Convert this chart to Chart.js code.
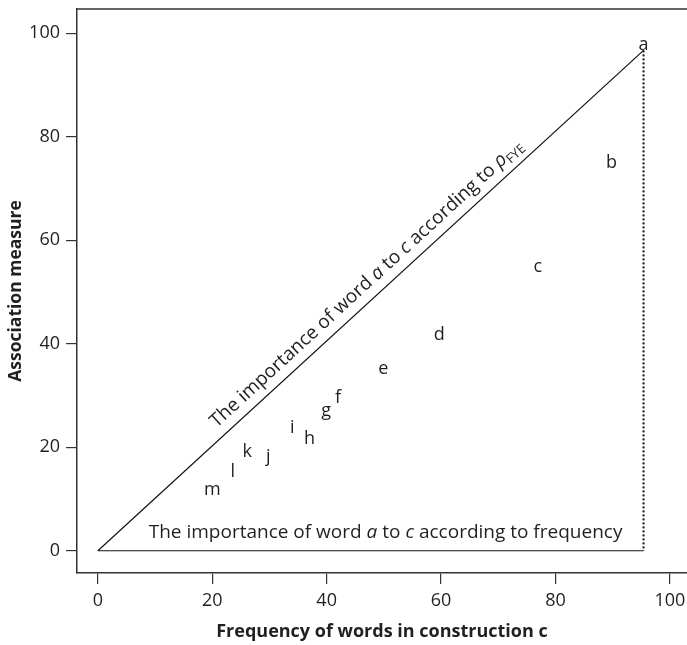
<!DOCTYPE html>
<html>
<head>
<meta charset="utf-8">
<script src="https://cdn.jsdelivr.net/npm/chart.js@4"></script>
<style>
  html, body { margin: 0; padding: 0; background: #fff; overflow: hidden; }
  #wrap { width: 687px; height: 645px; position: relative; }
</style>
</head>
<body>
<div id="wrap"><canvas id="chart"></canvas></div>
<script>
// Words and their position (frequency in construction, association measure)
const words = ['a', 'b', 'c', 'd', 'e', 'f', 'g', 'h', 'i', 'j', 'k', 'l', 'm'];
const wordFreq = [95.4, 89.8, 76.9, 59.7, 49.9, 42.0, 39.9, 37.0, 34.0, 29.8, 26.1, 23.6, 20.0];
const wordAssoc = [96.7, 73.9, 53.8, 40.8, 34.2, 28.6, 26.1, 20.7, 22.8, 17.2, 18.2, 14.3, 10.8];

// Triangle: diagonal (pFYE), baseline (frequency), dotted drop from word a
const diagX = [0, 95.4];
const diagY = [0, 96.7];
const baseX = [0, 95.4];
const baseY = [0, 0];
const dropX = [95.4, 95.4];
const dropY = [96.7, 0];

const xTicks = [0, 20, 40, 60, 80, 100];
const yTicks = [0, 20, 40, 60, 80, 100];

// Annotation texts (segment, style) and where their baseline centre sits
const diagText = [['The importance of word ', ''], ['a', 'i'], [' to ', ''], ['c', 'i'], [' according to ', ''], ['\u03C1', 'i'], ['FYE', 'sub']];
const diagAt = { x: 47.6, y: 50.9 };
const baseText = [['The importance of word ', ''], ['a', 'i'], [' to ', ''], ['c', 'i'], [' according to frequency', '']];
const baseAt = { x: 50.3, y: 2.5 };

const FONT = '"Open Sans"';
const INK = '#231f20';
const SIZE = 18;      // letters and tick labels
const NOTE = 19;      // annotation texts

function pts(xs, ys) {
  return xs.map((x, i) => ({ x: x, y: ys[i] }));
}

function richWidth(ctx, parts, size) {
  let w = 0;
  for (const [t, s] of parts) {
    const sz = s === 'sub' ? size * 0.68 : size;
    ctx.font = (s === 'i' ? 'italic ' : '') + sz + 'px ' + FONT;
    w += ctx.measureText(t).width;
  }
  return w;
}

function drawRich(ctx, parts, x, y, size) {
  let cx = x;
  for (const [t, s] of parts) {
    const sz = s === 'sub' ? size * 0.68 : size;
    ctx.font = (s === 'i' ? 'italic ' : '') + sz + 'px ' + FONT;
    ctx.fillText(t, cx, y + (s === 'sub' ? size * 0.22 : 0));
    cx += ctx.measureText(t).width;
  }
}

const labelPlugin = {
  id: 'labels',
  afterDatasetsDraw(chart) {
    const ctx = chart.ctx;
    const xs = chart.scales.x, ys = chart.scales.y;
    const area = chart.chartArea;
    ctx.save();
    // top border of the box
    ctx.strokeStyle = '#333';
    ctx.lineWidth = 1.5;
    ctx.beginPath();
    ctx.moveTo(area.left, area.top);
    ctx.lineTo(area.right, area.top);
    ctx.stroke();

    ctx.fillStyle = INK;
    ctx.textAlign = 'center';
    ctx.textBaseline = 'alphabetic';
    ctx.font = SIZE + 'px ' + FONT;
    const meta = chart.getDatasetMeta(0);
    meta.data.forEach((el, i) => {
      ctx.fillText(words[i], el.x, el.y);
    });

    ctx.textAlign = 'left';
    // horizontal annotation
    let w = richWidth(ctx, baseText, NOTE);
    drawRich(ctx, baseText, xs.getPixelForValue(baseAt.x) - w / 2, ys.getPixelForValue(baseAt.y), NOTE);

    // diagonal annotation, rotated to follow the line
    const ang = Math.atan2(ys.getPixelForValue(diagY[1]) - ys.getPixelForValue(diagY[0]),
                           xs.getPixelForValue(diagX[1]) - xs.getPixelForValue(diagX[0]));
    w = richWidth(ctx, diagText, NOTE);
    ctx.translate(xs.getPixelForValue(diagAt.x), ys.getPixelForValue(diagAt.y));
    ctx.rotate(ang);
    drawRich(ctx, diagText, -w / 2, 0, NOTE);
    ctx.restore();
  }
};

const axisCommon = {
  grid: { drawOnChartArea: false, drawTicks: true, tickLength: 11, color: '#333', lineWidth: 1.2 },
  border: { display: true, color: '#333', width: 1.5 },
  ticks: { color: INK, font: { family: 'Open Sans', size: SIZE }, padding: 6 }
};

new Chart(document.getElementById('chart'), {
  type: 'scatter',
  data: {
    datasets: [
      { label: 'words', data: pts(wordFreq, wordAssoc), pointRadius: 0, showLine: false },
      { label: 'pFYE', data: pts(diagX, diagY), showLine: true, pointRadius: 0, borderColor: '#111', borderWidth: 1.2 },
      { label: 'frequency', data: pts(baseX, baseY), showLine: true, pointRadius: 0, borderColor: '#111', borderWidth: 1.2 },
      { label: 'drop', data: pts(dropX, dropY), showLine: true, pointRadius: 0, borderColor: '#111', borderWidth: 2, borderDash: [2, 2] }
    ]
  },
  options: {
    responsive: true,
    maintainAspectRatio: false,
    animation: false,
    layout: { padding: { top: 9, right: 0, left: 0, bottom: 0 } },
    plugins: { legend: { display: false }, tooltip: { enabled: false } },
    scales: {
      x: {
        ...axisCommon,
        min: -3.65, max: 103,
        afterBuildTicks: s => { s.ticks = xTicks.map(v => ({ value: v })); },
        afterFit: s => { s.height = 72; s.paddingLeft = 0; s.paddingRight = 0; },
        title: { display: true, text: 'Frequency of words in construction c', color: INK,
                 font: { family: 'Open Sans', size: 18, weight: 'bold' }, padding: { top: 0, bottom: 2 } }
      },
      y: {
        ...axisCommon,
        min: -4.3, max: 104.7,
        afterBuildTicks: s => { s.ticks = yTicks.map(v => ({ value: v })); },
        afterFit: s => { s.width = 77; s.paddingTop = 0; s.paddingBottom = 0; },
        title: { display: true, text: 'Association measure', color: INK,
                 font: { family: 'Open Sans', size: 17.5, weight: 'bold' }, padding: { top: 6, bottom: 0 } }
      }
    }
  },
  plugins: [labelPlugin]
});
</script>
</body>
</html>
